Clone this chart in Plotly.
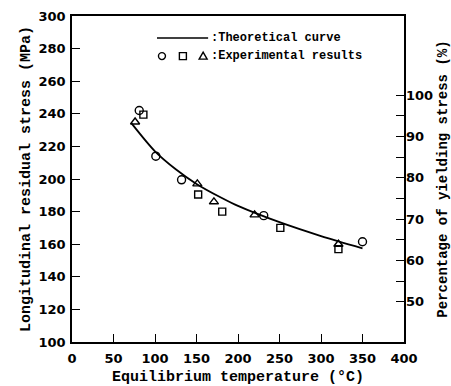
import plotly.graph_objects as go

# Theoretical curve
curve_temp = [72, 100, 125, 150, 180, 200, 250, 300, 350]
curve_stress = [234, 217, 206, 197, 188.5, 183.5, 173.5, 165, 157.5]

# Experimental results
circle_temp = [81, 101, 132, 231, 350]
circle_stress = [242, 214, 199.5, 177.5, 161.5]
square_temp = [86, 152, 181, 251, 321]
square_stress = [239.5, 190.5, 180, 170, 157]
triangle_temp = [76, 151, 171, 220, 321]
triangle_stress = [235, 197, 186, 178, 160]

x_ticks = [0, 50, 100, 150, 200, 250, 300, 350, 400]
y_ticks = [100, 120, 140, 160, 180, 200, 220, 240, 260, 280, 300]
pct_ticks = [50, 55, 60, 65, 70, 75, 80, 85, 90, 95, 100]
pct_labels = ["50", "", "60", "", "70", "", "80", "", "90", "", "100"]


def b(s):
    return "<b>" + s + "</b>" if s else ""


TICKFONT = dict(family="DejaVu Sans", size=13, color="black")
TITLEFONT = dict(family="Liberation Mono", size=15, color="black")

fig = go.Figure()
fig.add_trace(go.Scatter(x=curve_temp, y=curve_stress, mode="lines",
                         line=dict(color="black", width=1.8, shape="spline", smoothing=0.8),
                         showlegend=False))
fig.add_trace(go.Scatter(x=circle_temp, y=circle_stress, mode="markers",
                         marker=dict(symbol="circle-open", size=8, color="black",
                                     line=dict(width=1.4)), showlegend=False))
fig.add_trace(go.Scatter(x=square_temp, y=square_stress, mode="markers",
                         marker=dict(symbol="square-open", size=7, color="black",
                                     line=dict(width=1.4)), showlegend=False))
fig.add_trace(go.Scatter(x=triangle_temp, y=triangle_stress, mode="markers",
                         marker=dict(symbol="triangle-up-open", size=8, color="black",
                                     line=dict(width=1.4)), showlegend=False))
# invisible trace to activate the secondary axis
fig.add_trace(go.Scatter(x=[None], y=[None], yaxis="y2", showlegend=False))

fig.update_layout(
    width=451, height=386,
    margin=dict(l=72, r=47, t=16, b=44),
    paper_bgcolor="white", plot_bgcolor="white",
    showlegend=False,
    xaxis=dict(range=[0, 400], tickvals=x_ticks, ticktext=[b(str(v)) for v in x_ticks],
               ticks="inside", ticklen=8, automargin=False,
               tickwidth=1.3, tickcolor="black", showgrid=False, zeroline=False,
               showline=True, linecolor="black", linewidth=1.5, mirror=True,
               tickfont=TICKFONT, ticklabelstandoff=4,
               title=dict(text=b("Equilibrium temperature (°C)"), font=TITLEFONT, standoff=8)),
    yaxis=dict(range=[100, 300], tickvals=y_ticks, ticktext=[b(str(v)) for v in y_ticks],
               ticks="inside", ticklen=8, automargin=False,
               tickwidth=1.3, tickcolor="black", showgrid=False, zeroline=False,
               showline=True, linecolor="black", linewidth=1.5, mirror=True,
               tickfont=TICKFONT, ticklabelstandoff=2,
               title=dict(text=b("Longitudinal residual stress (MPa)"), font=TITLEFONT, standoff=4)),
    yaxis2=dict(range=[40.3, 119.1], overlaying="y", side="right", automargin=False,
                tickvals=pct_ticks, ticktext=[b(s) for s in pct_labels], ticks="inside", ticklen=8,
                tickwidth=1.3, tickcolor="black", showgrid=False, zeroline=False,
                showline=False, tickfont=TICKFONT, ticklabelstandoff=1,
                title=dict(text=b("Percentage of yielding stress (%)"),
                           font=dict(family="Liberation Mono", size=14, color="black"),
                           standoff=6)),
)

# legend drawn as shapes + text
LX0, LX1 = 0.256, 0.41
ROW1, ROW2 = 0.9325, 0.877
fig.add_shape(type="line", xref="paper", yref="paper", x0=LX0, x1=LX1, y0=ROW1, y1=ROW1,
              line=dict(color="black", width=1.5))
for sym_x, sym in [(0.271, "circle"), (0.334, "square"), (0.395, "triangle")]:
    if sym == "circle":
        fig.add_shape(type="circle", xref="paper", yref="paper", xsizemode="pixel",
                      ysizemode="pixel", xanchor=sym_x, yanchor=ROW2,
                      x0=-3.5, x1=3.5, y0=-3.5, y1=3.5, line=dict(color="black", width=1.4))
    elif sym == "square":
        fig.add_shape(type="rect", xref="paper", yref="paper", xsizemode="pixel",
                      ysizemode="pixel", xanchor=sym_x, yanchor=ROW2,
                      x0=-3.5, x1=3.5, y0=-3.5, y1=3.5, line=dict(color="black", width=1.4))
    else:
        fig.add_shape(type="path", xref="paper", yref="paper", xsizemode="pixel",
                      ysizemode="pixel", xanchor=sym_x, yanchor=ROW2,
                      path="M -4,-3 L 4,-3 L 0,4 Z", line=dict(color="black", width=1.4))

LEGFONT = dict(family="Liberation Mono", size=12, color="black")
fig.add_annotation(x=0.413, y=ROW1, xref="paper", yref="paper", xanchor="left",
                   yanchor="middle", text=b(":Theoretical curve"), showarrow=False, font=LEGFONT)
fig.add_annotation(x=0.413, y=ROW2, xref="paper", yref="paper", xanchor="left",
                   yanchor="middle", text=b(":Experimental results"), showarrow=False, font=LEGFONT)

fig.write_html("out.html")
